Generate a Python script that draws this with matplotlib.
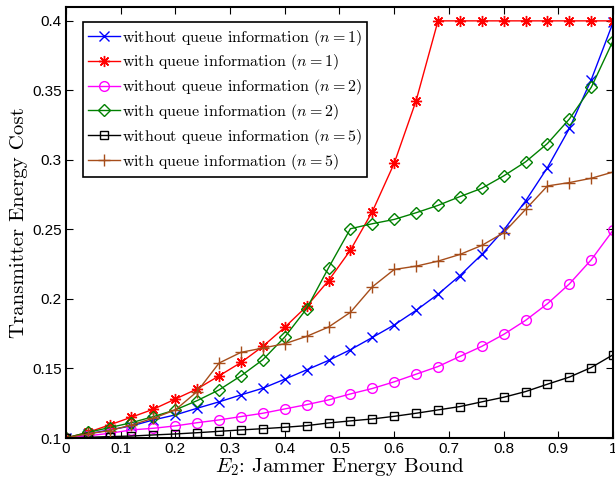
import numpy as np
import matplotlib.pyplot as plt

plt.rcParams['mathtext.fontset'] = 'cm'
plt.rcParams['font.family'] = ['Liberation Sans', 'DejaVu Sans']

# E2 sample points
e2 = np.arange(26) * 0.04

# Transmitter energy cost
wo_n1 = [0.1, 0.103, 0.1058, 0.1087, 0.113, 0.1166, 0.1214, 0.126, 0.131, 0.1358,
         0.1423, 0.149, 0.1558, 0.1635, 0.1723, 0.1813, 0.1918, 0.2034, 0.2168, 0.232,
         0.2495, 0.2705, 0.2945, 0.3226, 0.3577, 0.399]
w_n1 = [0.1, 0.104, 0.1094, 0.115, 0.1207, 0.128, 0.1353, 0.1447, 0.1543, 0.1659,
        0.1796, 0.1947, 0.2132, 0.2351, 0.2628, 0.2976, 0.3426, 0.4, 0.4, 0.4,
        0.4, 0.4, 0.4, 0.4, 0.4, 0.4]
wo_n2 = [0.1, 0.1015, 0.1034, 0.1058, 0.107, 0.1087, 0.111, 0.113, 0.1154, 0.1178,
         0.1209, 0.124, 0.1274, 0.1317, 0.1356, 0.1404, 0.1459, 0.1514, 0.1587, 0.1659,
         0.1745, 0.1846, 0.1966, 0.2108, 0.2282, 0.2495]
w_n2 = [0.1, 0.104, 0.1075, 0.111, 0.1154, 0.1202, 0.1269, 0.1346, 0.1447, 0.1563,
        0.1726, 0.193, 0.2224, 0.2505, 0.2541, 0.2572, 0.262, 0.2673, 0.2736, 0.2796,
        0.2885, 0.2986, 0.3118, 0.3294, 0.3522, 0.3858]
wo_n5 = [0.1, 0.1005, 0.101, 0.1014, 0.1022, 0.1029, 0.1038, 0.1048, 0.1058, 0.1067,
         0.1077, 0.1089, 0.1108, 0.1123, 0.1137, 0.1156, 0.1178, 0.1202, 0.1226, 0.126,
         0.1293, 0.1334, 0.1387, 0.1438, 0.1507, 0.1599]
w_n5 = [0.1, 0.103, 0.1053, 0.1094, 0.1142, 0.1202, 0.1334, 0.1539, 0.1616, 0.1647,
        0.1678, 0.1731, 0.1798, 0.1904, 0.2087, 0.2212, 0.2236, 0.2272, 0.232, 0.2385,
        0.2476, 0.2644, 0.2813, 0.2837, 0.2868, 0.2913]

fig = plt.figure(figsize=(6.15, 4.8), dpi=100)
ax = fig.add_axes([0.107, 0.0875, 0.89, 0.898])

brown = (0.65, 0.3, 0.1)
lw = 1.0
ax.plot(e2, wo_n1, color='b', marker='x', ms=7, mew=1, lw=lw,
        label='without queue information $(n=1)$')
ax.plot(e2, w_n1, color='r', marker=(8, 2, 0), ms=8, mew=1, lw=lw,
        label='with queue information $(n=1)$')
ax.plot(e2, wo_n2, color='magenta', marker='o', mfc='none', ms=7, mew=1, lw=lw,
        label='without queue information $(n=2)$')
ax.plot(e2, w_n2, color=(0, 0.5, 0), marker='D', mfc='none', ms=6, mew=1, lw=lw,
        label='with queue information $(n=2)$')
ax.plot(e2, wo_n5, color='k', marker='s', mfc='none', ms=5.5, mew=1, lw=lw,
        label='without queue information $(n=5)$')
ax.plot(e2, w_n5, color=brown, marker='+', ms=8, mew=1, lw=lw,
        label='with queue information $(n=5)$')

ax.set_xlim(0, 1)
ax.set_ylim(0.1, 0.41)
ax.set_xticks(np.arange(0, 1.01, 0.1))
ax.set_xticklabels(['0', '0.1', '0.2', '0.3', '0.4', '0.5', '0.6', '0.7', '0.8', '0.9', '1'])
ax.set_yticks([0.1, 0.15, 0.2, 0.25, 0.3, 0.35, 0.4])
ax.set_yticklabels(['0.1', '0.15', '0.2', '0.25', '0.3', '0.35', '0.4'])
ax.tick_params(direction='in', top=True, right=True, labelsize=11, length=5, pad=3)
for s in ax.spines.values():
    s.set_linewidth(1.5)

ax.set_xlabel('$E_2$: Jammer Energy Bound', family='cmr10', fontsize=15, labelpad=0)
ax.set_ylabel('Transmitter Energy Cost', family='cmr10', fontsize=15, labelpad=3)

leg = ax.legend(loc='upper left', bbox_to_anchor=(0.031, 0.965), prop={'family': 'cmr10', 'size': 11.5},
                fancybox=False, edgecolor='k', framealpha=1, handlelength=2.0,
                handletextpad=0.1, labelspacing=0.3, borderpad=0.35, borderaxespad=0)
leg.get_frame().set_linewidth(1.2)

fig.savefig('out.png', dpi=100)
